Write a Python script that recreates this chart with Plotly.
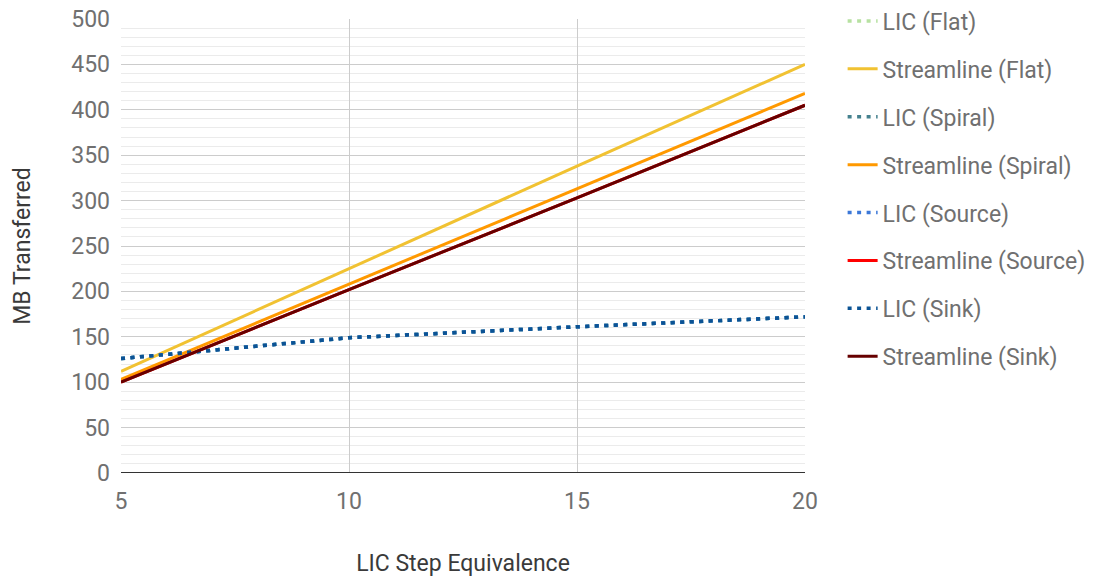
import plotly.graph_objects as go

x_steps = [5, 10, 15, 20]

lic_flat = [126, 149, 161, 172]
lic_spiral = [126, 149, 161, 172]
lic_source = [126, 149, 161, 172]
lic_sink = [126, 149, 161, 172]

stream_flat = [112, 225, 338, 450]
stream_spiral = [103, 208, 313, 418]
stream_source = [100, 202, 303, 405]
stream_sink = [100, 202, 303, 405]

series = [
    ("LIC (Flat)", lic_flat, "#b7e1a1", "dot"),
    ("Streamline (Flat)", stream_flat, "#f1c232", "solid"),
    ("LIC (Spiral)", lic_spiral, "#45818e", "dot"),
    ("Streamline (Spiral)", stream_spiral, "#ff9900", "solid"),
    ("LIC (Source)", lic_source, "#3c78d8", "dot"),
    ("Streamline (Source)", stream_source, "#ff0000", "solid"),
    ("LIC (Sink)", lic_sink, "#0b5394", "dot"),
    ("Streamline (Sink)", stream_sink, "#660000", "solid"),
]

fig = go.Figure()
for i, (name, ys, color, dash) in enumerate(series):
    fig.add_trace(go.Scatter(
        x=x_steps, y=ys, name=name, mode="lines",
        line=dict(color=color, width=3.5 if dash == "dot" else 3,
                  dash="4px,5.5px" if dash == "dot" else "solid"),
        legendgroup=f"g{i}",
    ))

fig.update_layout(
    width=1093, height=579,
    margin=dict(l=121, r=288, t=19, b=106, autoexpand=False),
    paper_bgcolor="white", plot_bgcolor="white",
    font=dict(family="Roboto", size=23, color="#707070"),
    legend=dict(
        x=1.055, y=1.043, xanchor="left", yanchor="top",
        font=dict(size=23, color="#707070"),
        tracegroupgap=15, itemwidth=30,
        bgcolor="rgba(0,0,0,0)",
        maxheight=579,
    ),
    xaxis=dict(
        range=[5, 20], tickvals=[5, 10, 15, 20],
        showgrid=True, gridcolor="#cccccc", gridwidth=1,
        zeroline=False, showline=False,
        ticks="", ticklabelstandoff=12,
        title=dict(text="LIC Step Equivalence", standoff=40,
                   font=dict(size=23, color="#3a3a3a")),
        tickfont=dict(size=23, color="#707070"),
    ),
    yaxis=dict(
        range=[0, 500], tickvals=list(range(0, 501, 50)),
        showgrid=True, gridcolor="#cccccc", gridwidth=1,
        minor=dict(dtick=10, showgrid=True, gridcolor="#ebebeb", gridwidth=1),
        zeroline=False, showline=False, ticks="", ticklabelstandoff=10,
        title=dict(text="MB Transferred", standoff=34,
                   font=dict(size=23, color="#3a3a3a")),
        tickfont=dict(size=23, color="#707070"),
    ),
    showlegend=True,
)

fig.add_shape(type="line", xref="paper", yref="y", x0=0, x1=1, y0=0, y1=0,
              line=dict(color="#333333", width=2))

fig.write_html("out.html")
